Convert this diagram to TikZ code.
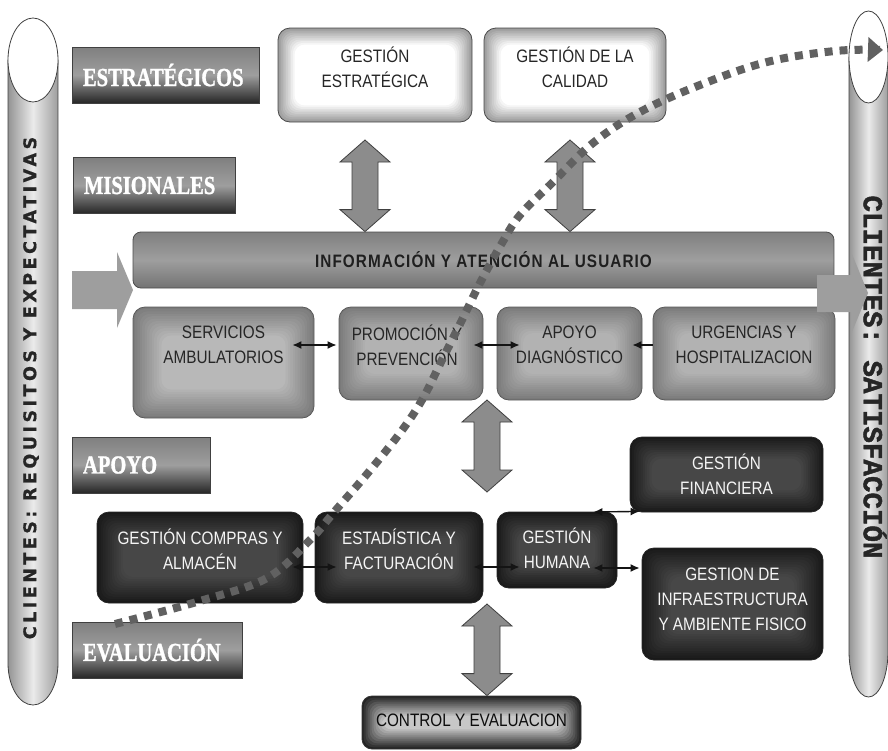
\documentclass[tikz,border=0pt]{standalone}
\usepackage{fontspec}
\setmainfont{Liberation Sans}
\newfontfamily\catfont[FakeStretch=0.79,FakeBold=1.2]{Liberation Serif}
\newfontfamily\boxfont[FakeStretch=0.85]{Liberation Sans}
\newfontfamily\infofont[FakeStretch=0.85,LetterSpace=6]{Liberation Sans}
\newfontfamily\lcylfont[LetterSpace=20,FakeBold=0.8]{DejaVu Sans}
\newfontfamily\rcylfont[FakeBold=1.6]{Liberation Mono}
\usetikzlibrary{calc,arrows.meta}
% inner glow: #1 node, #2 outer pct, #3 inner pct, #4 steps, #5 step size
\newcommand\glow[5]{%
  \foreach \i in {1,...,#4}{%
    \pgfmathsetmacro\pc{#2+(#3-#2)*\i/#4}%
    \fill[black!\pc, rounded corners=10pt] ($(#1.north west)+(\i*#5,\i*#5)$) rectangle ($(#1.south east)+(-\i*#5,-\i*#5)$);
  }}
\newcommand\vdarrow[2]{%
  \path[bigarr] let \p1=(#1), \p2=(#2) in
    (\x1,\y1) -- (\x1+25pt,\y1-22pt) -- (\x1+13pt,\y1-22pt) -- (\x1+13pt,\y2+22pt)
    -- (\x1+25pt,\y2+22pt) -- (\x1,\y2) -- (\x1-25pt,\y2+22pt) -- (\x1-13pt,\y2+22pt)
    -- (\x1-13pt,\y1-22pt) -- (\x1-25pt,\y1-22pt) -- cycle;}
\begin{document}
\begin{tikzpicture}[x=1pt,y=-1pt,
  catbox/.style={draw=black!75, line width=0.7pt, top color=black!50, bottom color=black!85,
    middle color=black!38, minimum height=56pt, inner xsep=11pt, align=left, text=white,
    font=\catfont\bfseries\fontsize{26}{26}\selectfont},
  lightbox/.style={draw=black!70, line width=0.8pt, rounded corners=12pt, fill=black!40},
  misbox/.style={draw=black!65, line width=0.8pt, rounded corners=12pt, fill=black!52},
  apobox/.style={draw=black!85, line width=0.8pt, rounded corners=12pt, fill=black!90},
  ctrlbox/.style={draw=black!80, line width=0.8pt, rounded corners=10pt, fill=black!86},
  infobar/.style={draw=black!70, line width=0.8pt, rounded corners=8pt, top color=black!50, bottom color=black!55,
    middle color=black!38, text=black!88, font=\infofont\bfseries\fontsize{18}{18}\selectfont},
  boxtext/.style={font=\boxfont\fontsize{18}{25}\selectfont, align=center, inner sep=0pt},
  cylbody/.style={draw=black!75, line width=0.8pt, left color=black!42, right color=black!38, middle color=black!8},
  bigarr/.style={fill=black!45, draw=black!75, line width=0.8pt},
  harr/.style={fill=black!38},
  sarr/.style={line width=1.4pt, draw=black!92, {Latex[length=9pt,width=8pt]}-{Latex[length=9pt,width=8pt]}},
  sarrone/.style={line width=1.4pt, draw=black!92, -{Latex[length=9pt,width=8pt]}},
  curve/.style={draw=black!62, line width=8pt, dash pattern=on 8pt off 7pt}
]
\useasboundingbox (0,0) rectangle (888,750);
\fill[white] (0,0) rectangle (888,750);

% cylinders
\path[cylbody] (8,60) -- (8,663) arc[start angle=180, end angle=360, x radius=25pt, y radius=42pt] -- (58,60) -- cycle;
\draw[draw=black!75, line width=0.8pt, fill=white] (33,60) ellipse [x radius=25pt, y radius=42pt];
\node[rotate=90, text=black!85, font=\lcylfont\bfseries\fontsize{17.5}{18}\selectfont] (lcyl) at (31,388) {CLIENTES: REQUISITOS Y EXPECTATIVAS};

\path[cylbody] (849,57) -- (849,651) arc[start angle=180, end angle=360, x radius=19.5pt, y radius=46pt] -- (888,57) -- cycle;
\draw[draw=black!75, line width=0.8pt, fill=white] (868.5,57) ellipse [x radius=19.5pt, y radius=46pt];
\node[rotate=-90, text=black!85, font=\rcylfont\bfseries\fontsize{27.5}{28}\selectfont] (rcyl) at (875,377) {CLIENTES: SATISFACCIÓN};

% category labels
\node[catbox, text width=165pt] (ces) at (165.5,75) {ESTRATÉGICOS};
\node[catbox, text width=140pt] (cmi) at (154,185.5) {MISIONALES};
\node[catbox, text width=116pt] (cap) at (141,465) {APOYO};
\node[catbox, text width=148pt] (cev) at (157,650) {EVALUACIÓN};

% strategic
\node[lightbox, minimum width=194pt, minimum height=94pt] (ge) at (375,75) {};
\glow{ge}{40}{0}{10}{1.7}
\node[boxtext, text=black!85] (get) at (375,67) {GESTIÓN\\ESTRATÉGICA};
\node[lightbox, minimum width=182pt, minimum height=94pt] (gc) at (575,75) {};
\glow{gc}{40}{0}{10}{1.7}
\node[boxtext, text=black!85] (gct) at (575,67) {GESTIÓN DE LA\\CALIDAD};

% info bar
\node[infobar, minimum width=701pt, minimum height=56pt] (info) at (483.5,260) {INFORMACIÓN Y ATENCIÓN AL USUARIO};

% misional boxes
\node[misbox, minimum width=181pt, minimum height=111pt] (sa) at (223.5,362.5) {};
\glow{sa}{52}{28}{12}{2.4}
\node[boxtext, text=black!85] (sat) at (223.5,345) {SERVICIOS\\AMBULATORIOS};
\node[misbox, minimum width=144pt, minimum height=93pt] (pp) at (411,353.5) {};
\glow{pp}{52}{30}{12}{2.2}
\node[boxtext, text=black!85] (ppt) at (407,345) {PROMOCIÓN Y\\PREVENCIÓN};
\node[misbox, minimum width=145pt, minimum height=93pt] (ad) at (569.5,353.5) {};
\glow{ad}{52}{30}{12}{2.2}
\node[boxtext, text=black!85] (adt) at (569.5,345) {APOYO\\DIAGNÓSTICO};
\node[misbox, minimum width=182pt, minimum height=93pt] (ur) at (744,353.5) {};
\glow{ur}{52}{30}{12}{2.2}
\node[boxtext, text=black!85] (urt) at (744,345) {URGENCIAS Y\\HOSPITALIZACION};

% apoyo boxes
\node[apobox, minimum width=206pt, minimum height=91pt] (gca) at (200,557.5) {};
\glow{gca}{90}{72}{12}{2.2}
\node[boxtext, text=black!4] (gcat) at (200,549) {GESTIÓN COMPRAS Y\\ALMACÉN};
\node[apobox, minimum width=168pt, minimum height=91pt] (ef) at (399,557.5) {};
\glow{ef}{90}{72}{12}{2.2}
\node[boxtext, text=black!4] (eft) at (399,549) {ESTADÍSTICA Y\\FACTURACIÓN};
\node[apobox, minimum width=120pt, minimum height=76pt] (gh) at (557,550) {};
\glow{gh}{90}{72}{10}{2.2}
\node[boxtext, text=black!4] (ght) at (557,548) {GESTIÓN\\HUMANA};
\node[apobox, minimum width=193pt, minimum height=75pt] (gf) at (726.5,474.5) {};
\glow{gf}{90}{72}{10}{2.2}
\node[boxtext, text=black!4] (gft) at (726.5,474) {GESTIÓN\\FINANCIERA};
\node[apobox, minimum width=181pt, minimum height=112pt] (gi) at (732.5,604) {};
\glow{gi}{90}{72}{12}{2.4}
\node[boxtext, text=black!4] (git) at (732.5,599) {GESTION DE\\INFRAESTRUCTURA\\Y AMBIENTE FISICO};

% control
\node[ctrlbox, minimum width=219pt, minimum height=53pt] (ce) at (471.5,722.5) {};
\glow{ce}{86}{22}{10}{2}
\node[boxtext, text=black!95] (cet) at (471.5,720) {CONTROL Y EVALUACION};

% big double arrows
\coordinate (a1t) at (365,140); \coordinate (a1b) at (a1t |- info.north);
\coordinate (a2t) at (570,140); \coordinate (a2b) at (a2t |- info.north);
\coordinate (a3t) at (487,400); \coordinate (a3b) at (487,492);
\coordinate (a4t) at (487,604); \coordinate (a4b) at (a4t |- ce.north);
\vdarrow{a1t}{a1b}
\vdarrow{a2t}{a2b}
\vdarrow{a3t}{a3b}
\vdarrow{a4t}{a4b}

% side arrows
\coordinate (lin) at (133,290);
\fill[harr] (lin) -- ++(-16,-38) -- ++(0,19) -- ++(-45,0) -- ++(0,38) -- ++(45,0) -- ++(0,19) -- cycle;
\coordinate (rout) at (868,293);
\fill[harr] (rout) -- ++(-16,-39) -- ++(0,21) -- ++(-35,0) -- ++(0,37) -- ++(35,0) -- ++(0,20) -- cycle;

% small connectors
\draw[sarr] ($(sa.east |- sat.center)+(-22,0)$) -- ($(pp.west |- sat.center)+(-2,0)$);
\draw[sarr] ($(pp.east |- sat.center)+(-10,0)$) -- ($(ad.west |- sat.center)+(23,0)$);
\draw[sarrone] (ur.west |- sat.center) -- ($(ad.east |- sat.center)+(-10,0)$);
\draw[sarr] ($(gca.east)+(-11,9.5)$) -- ($(ef.west)+(22,9.5)$);
\draw[sarr] ($(ef.east)+(-10,9.5)$) -- ($(gh.west)+(23,17)$);
\draw[sarr] ($(gh.east)+(-24,-38)$) -- ($(gf.south west)+(10,-1)$);
\draw[sarr] ($(gh.east)+(-24,18)$) -- ($(gi.west)+(-2,-36)$);

% dotted curve
\coordinate (cstart) at (115,624);
\coordinate (cend) at (883,50);
\draw[curve, -{Triangle[length=15pt,width=24pt]}] plot[smooth, tension=0.6] coordinates {(cstart) (200,601) (267,578) (310,540) (335,511) (367,474) (400,433) (422,400) (442,360) (462,320) (480,283) (502,243) (520,215) (553,182) (593,143) (640,112) (700,85) (767,62) (835,51) (cend)};
\end{tikzpicture}
\end{document}
